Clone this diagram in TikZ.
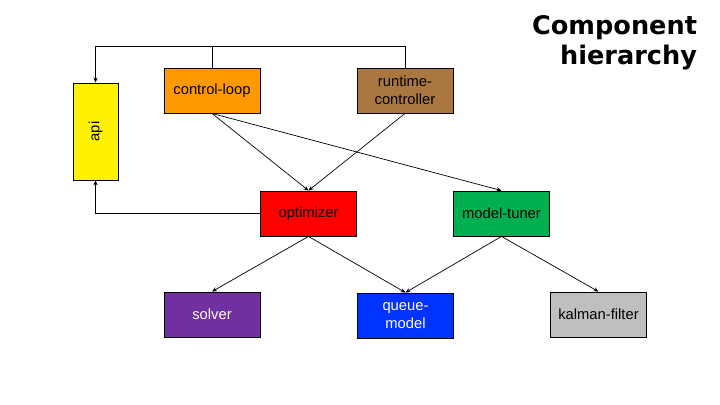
\documentclass[tikz,border=0pt]{standalone}
\usepackage{fontspec}
\setmainfont{Liberation Sans}
\newfontfamily\titlefont{DejaVu Sans}
\usetikzlibrary{arrows.meta}
\definecolor{cloop}{HTML}{FF9900}
\definecolor{rtctrl}{HTML}{A9773F}
\definecolor{mtuner}{HTML}{00B050}
\definecolor{solv}{HTML}{7030A0}
\definecolor{qmodel}{HTML}{0033FF}
\definecolor{kfilter}{HTML}{BFBFBF}
\tikzset{
	comp/.style={draw=black, line width=0.6pt, minimum width=2.4cm, minimum height=1.125cm, align=center, font=\fontsize{10.5}{13}\selectfont, inner sep=1pt},
	link/.style={line width=0.5pt, -{Stealth[length=3.5pt,width=3pt]}}
}
\begin{document}
\begin{tikzpicture}
	\useasboundingbox (0,0) rectangle (18,10.125);

	% title
	\node[anchor=east, align=right, font=\titlefont\bfseries\fontsize{18.2}{21.5}\selectfont] (title) at (17.55,9.06) {Component\\hierarchy};

	% boxes
	\node[comp, fill=yellow, minimum width=2.425cm, minimum height=1.125cm, rotate=90] (api) at (2.3875,6.8375) {api};
	\node[comp, fill=cloop] (loop) at (5.3,7.8625) {control-loop};
	\node[comp, fill=rtctrl] (rt) at (10.125,7.8625) {runtime-\\controller};
	\node[comp, fill=red] (opt) at (7.7125,4.7875) {optimizer};
	\node[comp, fill=mtuner] (tuner) at (12.5375,4.7875) {model-tuner};
	\node[comp, fill=solv, text=white] (solver) at (5.3,2.2625) {solver};
	\node[comp, fill=qmodel, text=white] (queue) at (10.1375,2.2375) {queue-\\model};
	\node[comp, fill=kfilter] (kalman) at (14.9625,2.2625) {kalman-filter};

	% links to api
	\draw[link] (loop.north) -- ++(0,0.5375) -| (api.east);
	\draw[line width=0.5pt] (rt.north) -- ++(0,0.5375) -- ([yshift=0.5375cm]loop.north);
	\draw[link] (opt.west) -| (api.west);

	% hierarchy
	\draw[link] (loop.south) -- (opt.north);
	\draw[link] (loop.south) -- (tuner.north);
	\draw[link] (rt.south) -- (opt.north);
	\draw[link] (opt.south) -- (solver.north);
	\draw[link] (opt.south) -- (queue.north);
	\draw[link] (tuner.south) -- (queue.north);
	\draw[link] (tuner.south) -- (kalman.north);

\end{tikzpicture}
\end{document}
